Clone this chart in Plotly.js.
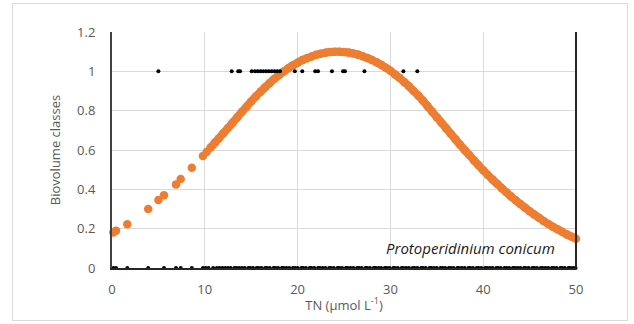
<!DOCTYPE html>
<html>
<head>
<meta charset="utf-8">
<script src="https://cdn.plot.ly/plotly-3.0.1.min.js"></script>
<style>html,body{margin:0;padding:0;background:#fff;}#chart{width:634px;height:324px;}</style>
</head>
<body>
<div id="chart"></div>
<script>
// Observed TN values with biovolume class 1
const presenceX = [5.0, 12.9, 13.6, 13.8, 15.05, 15.4, 15.7, 16.0, 16.3, 16.6, 16.9, 17.2, 17.5, 17.8, 18.1, 19.7, 20.5, 21.9, 22.2, 23.7, 24.9, 25.1, 27.2, 31.4, 32.9];
const presenceY = presenceX.map(() => 1);

// Observed TN values with biovolume class 0
const absenceX = [0.14, 0.43, 1.65, 3.9, 5.6, 6.9, 7.4, 8.6, 9.8, 10.1, 10.4, 10.9, 11.3, 11.6,
  11.9, 12.2, 12.5, 12.8, 13.2, 13.4, 13.7, 14.0, 14.3, 14.7, 14.9, 15.2, 15.6, 15.8, 16.1, 16.5,
  16.7, 17.0, 17.4, 17.6, 17.9, 18.3, 18.5, 18.8, 19.1, 19.5, 19.7, 20.0, 20.4, 20.6, 20.9, 21.3,
  21.5, 21.8, 22.2, 22.4, 22.7, 23.0, 23.4, 23.6, 23.9, 24.3, 24.5, 24.8, 25.2, 25.4, 25.7, 26.0,
  26.4, 26.6, 26.9, 27.3, 27.5, 27.8, 28.2, 28.4, 28.7, 29.0, 29.4, 29.6, 29.9, 30.3, 30.5, 30.8,
  31.2, 31.4, 31.7, 32.0, 32.4, 32.6, 32.9, 33.3, 33.5, 33.8, 34.2, 34.4, 34.7, 35.0, 35.4, 35.6,
  35.9, 36.3, 36.5, 36.8, 37.2, 37.4, 37.7, 38.0, 38.4, 38.6, 38.9, 39.3, 39.5, 39.8, 40.2, 40.4,
  40.7, 41.0, 41.4, 41.6, 41.9, 42.3, 42.5, 42.8, 43.2, 43.4, 43.7, 44.0, 44.4, 44.6, 44.9, 45.3,
  45.5, 45.8, 46.2, 46.4, 46.7, 47.0, 47.4, 47.6, 47.9, 48.3, 48.5, 48.8, 49.2, 49.4, 49.7, 49.95];
const absenceY = absenceX.map(() => 0);

// Fitted response (orange): sparse observations below TN 10
const fitSparseX = [0.14, 0.43, 1.65, 3.9, 5.0, 5.6, 6.9, 7.4, 8.6, 9.8, 10.2];
const fitSparseY = [0.181, 0.19, 0.222, 0.30, 0.346, 0.37, 0.425, 0.452, 0.51, 0.57, 0.59];

// Fitted response (orange): dense observations from TN 10.5 to 50
const fitDenseX = [10.6, 11.1, 11.5, 12, 12.5, 13, 13.5, 14, 14.5, 15, 15.5, 16, 16.5, 17, 17.5, 18, 18.5, 19, 19.5,
  20, 20.5, 21, 21.5, 22, 22.5, 23, 23.5, 24, 24.5, 25, 25.5, 26, 26.5, 27, 27.5, 28, 28.5, 29, 29.5,
  30, 30.5, 31, 31.5, 32, 32.5, 33, 33.5, 34, 34.5, 35, 35.5, 36, 36.5, 37, 37.5, 38, 38.5, 39, 39.5,
  40, 40.5, 41, 41.5, 42, 42.5, 43, 43.5, 44, 44.5, 45, 45.5, 46, 46.5, 47, 47.5, 48, 48.5, 49, 49.5, 50];
const fitDenseY = [0.611, 0.638, 0.659, 0.685, 0.712, 0.739, 0.766, 0.794, 0.820, 0.847, 0.872, 0.896, 0.919, 0.941, 0.962, 0.981, 0.999, 1.016, 1.031,
  1.044, 1.057, 1.067, 1.076, 1.084, 1.090, 1.095, 1.098, 1.100, 1.100, 1.098, 1.0955, 1.091, 1.085, 1.077, 1.068, 1.058, 1.046, 1.033, 1.018,
  1.003, 0.984, 0.966, 0.945, 0.924, 0.900, 0.877, 0.851, 0.823, 0.794, 0.767, 0.739, 0.711, 0.683, 0.655, 0.627, 0.600, 0.574, 0.548, 0.522,
  0.497, 0.473, 0.450, 0.428, 0.406, 0.385, 0.364, 0.344, 0.325, 0.307, 0.289, 0.272, 0.255, 0.239, 0.224, 0.210, 0.197, 0.184, 0.171, 0.160, 0.149];

const xTicks = [0, 10, 20, 30, 40, 50];
const yTicks = [0, 0.2, 0.4, 0.6, 0.8, 1, 1.2];
const yTickText = ['0', '0.2', '0.4', '0.6', '0.8', '1', '1.2'];
const speciesLabel = 'Protoperidinium conicum';

const FONT = '"Open Sans", "Noto Sans", sans-serif';
const GREY = '#595959';
const ORANGE = '#ED7D31';

const traces = [
  {x: fitSparseX, y: fitSparseY, type: 'scatter', mode: 'markers', cliponaxis: false,
   marker: {color: ORANGE, size: 8.5}, hoverinfo: 'skip'},
  {x: fitDenseX, y: fitDenseY, type: 'scatter', mode: 'lines+markers', cliponaxis: false,
   line: {color: ORANGE, width: 8, shape: 'spline'},
   marker: {color: ORANGE, size: 8.5}, hoverinfo: 'skip'},
  {x: absenceX, y: absenceY, type: 'scatter', mode: 'markers', cliponaxis: false,
   marker: {color: '#000000', size: 4}, hoverinfo: 'skip'},
  {x: presenceX, y: presenceY, type: 'scatter', mode: 'markers', cliponaxis: false,
   marker: {color: '#000000', size: 4}, hoverinfo: 'skip'}
];

const layout = {
  width: 634, height: 324,
  margin: {l: 112, r: 58, t: 32, b: 56},
  paper_bgcolor: '#ffffff', plot_bgcolor: '#ffffff',
  showlegend: false,
  font: {family: FONT, color: GREY, size: 13},
  xaxis: {
    range: [0, 50], tickvals: xTicks, ticktext: xTicks.map(String),
    showgrid: true, gridcolor: '#d9d9d9', gridwidth: 1,
    zeroline: false, showline: true, linecolor: '#262626', linewidth: 2,
    ticks: '', ticklabelstandoff: 8,
    tickfont: {family: FONT, size: 13, color: GREY},
    title: {text: 'TN (μmol L<sup>-1</sup>)', font: {family: FONT, size: 13, color: GREY}, standoff: 4}
  },
  yaxis: {
    range: [0, 1.2], tickvals: yTicks, ticktext: yTickText,
    showgrid: true, gridcolor: '#d9d9d9', gridwidth: 1,
    zeroline: false, showline: true, linecolor: '#404040', linewidth: 2,
    ticks: '', ticklabelstandoff: 12,
    tickfont: {family: FONT, size: 13, color: GREY},
    title: {text: 'Biovolume classes', font: {family: FONT, size: 13, color: GREY}, standoff: 14}
  },
  shapes: [
    {type: 'line', xref: 'paper', yref: 'paper', x0: 1, x1: 1, y0: 0, y1: 1,
     line: {color: '#262626', width: 2}},
    {type: 'rect', xref: 'paper', yref: 'paper', x0: -0.2144, x1: 1.111, y0: -0.2225, y1: 1.1208,
     line: {color: '#d9d9d9', width: 1}, layer: 'below'}
  ],
  annotations: [
    {text: '<i>' + speciesLabel + '</i>', xref: 'paper', yref: 'paper', x: 0.958, y: 0.085,
     xanchor: 'right', yanchor: 'middle', showarrow: false,
     font: {family: FONT, size: 15, color: '#1a1a1a'}}
  ]
};

Plotly.newPlot('chart', traces, layout, {staticPlot: true, displayModeBar: false});
</script>
</body>
</html>
